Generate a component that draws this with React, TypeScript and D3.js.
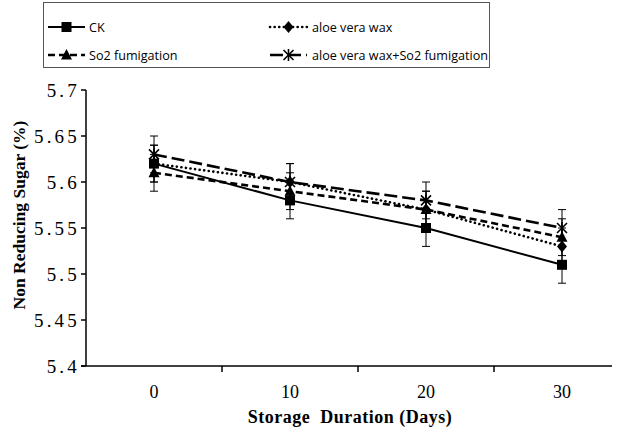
import React from "react";
import * as d3 from "d3";

const days = ["0", "10", "20", "30"];
const seriesNames = ["CK", "aloe vera wax", "So2 fumigation", "aloe vera wax+So2 fumigation"];
const ckValues = [5.62, 5.58, 5.55, 5.51];
const aloeValues = [5.62, 5.6, 5.57, 5.53];
const so2Values = [5.61, 5.59, 5.57, 5.54];
const bothValues = [5.63, 5.6, 5.58, 5.55];
const errValues = [0.02, 0.02, 0.02, 0.02];
const yTicks = [5.4, 5.45, 5.5, 5.55, 5.6, 5.65, 5.7];

const W = 618, H = 430;
const left = 86, right = 630, top = 90, bottom = 366;

const x = d3.scaleBand<string>().domain(days).range([left, right]).padding(0);
const y = d3.scaleLinear().domain([5.4, 5.7]).range([bottom, top]);

type Marker = "square" | "diamond" | "triangle" | "star";
const styles: { dash: string; marker: Marker; cap: any; width: number }[] = [
  { dash: "none", marker: "square", cap: "butt", width: 2 },
  { dash: "0.1 4.5", marker: "diamond", cap: "round", width: 2.6 },
  { dash: "7 4", marker: "triangle", cap: "butt", width: 2.6 },
  { dash: "13 5", marker: "star", cap: "butt", width: 2.6 },
];
const allValues = [ckValues, aloeValues, so2Values, bothValues];

function MarkerShape({ type, cx, cy }: { type: Marker; cx: number; cy: number }) {
  if (type === "square") return <rect x={cx - 5} y={cy - 5} width={10} height={10} fill="#000" />;
  if (type === "diamond") return <path d={`M${cx},${cy - 6}L${cx + 5},${cy}L${cx},${cy + 6}L${cx - 5},${cy}Z`} fill="#000" />;
  if (type === "triangle") return <path d={`M${cx},${cy - 6}L${cx + 5.5},${cy + 4.5}L${cx - 5.5},${cy + 4.5}Z`} fill="#000" />;
  return (
    <g stroke="#000" strokeWidth={1.6}>
      <line x1={cx - 5} y1={cy - 5} x2={cx + 5} y2={cy + 5} />
      <line x1={cx + 5} y1={cy - 5} x2={cx - 5} y2={cy + 5} />
      <line x1={cx} y1={cy - 6} x2={cx} y2={cy + 6} />
    </g>
  );
}

export default function App() {
  const line = d3
    .line<number>()
    .x((_, i) => (x(days[i]) as number) + x.bandwidth() / 2)
    .y((v) => y(v));
  const cx = (i: number) => (x(days[i]) as number) + x.bandwidth() / 2;

  const legendItems = [
    { lx: 48, ly: 27, tx: 89 },
    { lx: 270, ly: 27, tx: 312 },
    { lx: 48, ly: 55, tx: 89 },
    { lx: 270, ly: 55, tx: 312 },
  ];

  return (
    <svg width={W} height={H} style={{ position: "absolute", left: 0, top: 0, background: "#fff" }}>
      <rect x={0} y={0} width={W} height={H} fill="#fff" />
      {/* legend */}
      <rect x={43.5} y={2.5} width={446} height={65} fill="#fff" stroke="#555" strokeWidth={1} />
      {legendItems.map((it, k) => (
        <g key={k}>
          <line
            x1={it.lx}
            x2={it.lx + 37}
            y1={it.ly}
            y2={it.ly}
            stroke="#000"
            strokeWidth={styles[k].width}
            strokeDasharray={styles[k].dash}
            strokeLinecap={styles[k].cap}
          />
          <MarkerShape type={styles[k].marker} cx={it.lx + 18.5} cy={it.ly} />
          <text x={it.tx} y={it.ly + 4.5} fontFamily="Open Sans, sans-serif" fontSize={12.6} fill="#000">
            {seriesNames[k]}
          </text>
        </g>
      ))}

      {/* axes */}
      <line x1={left} x2={left} y1={top} y2={bottom} stroke="#000" strokeWidth={1.5} />
      <line x1={left - 5} x2={612} y1={bottom} y2={bottom} stroke="#000" strokeWidth={1.5} />
      {yTicks.map((t) => (
        <g key={t}>
          <line x1={left - 5} x2={left} y1={y(t)} y2={y(t)} stroke="#000" strokeWidth={1.5} />
          <text
            x={left - 6}
            y={y(t) + 6.5}
            textAnchor="end"
            fontFamily="Liberation Serif, serif"
            fontSize={19}
            letterSpacing={3.2}
          >
            {t}
          </text>
        </g>
      ))}
      {days.slice(1).map((d) => (
        <line key={d} x1={x(d) as number} x2={x(d) as number} y1={bottom} y2={bottom + 6} stroke="#000" strokeWidth={1.5} />
      ))}
      {days.map((d, i) => (
        <text key={d} x={cx(i)} y={398} textAnchor="middle" fontFamily="Liberation Serif, serif" fontSize={18}>
          {d}
        </text>
      ))}
      <text
        x={350}
        y={423}
        textAnchor="middle"
        fontFamily="Liberation Serif, serif"
        fontSize={18}
        fontWeight="bold"
        letterSpacing={0.5}
        style={{ whiteSpace: "pre" }}
      >
        {"Storage  Duration (Days)"}
      </text>
      <text
        transform={`translate(25,215) rotate(-90)`}
        textAnchor="middle"
        fontFamily="Liberation Serif, serif"
        fontSize={17.5}
        fontWeight="bold"
      >
        Non Reducing Sugar (%)
      </text>

      {/* error bars */}
      {allValues.map((vals, s) =>
        vals.map((v, i) => (
          <g key={`e${s}-${i}`} stroke="#000" strokeWidth={1}>
            <line x1={cx(i)} x2={cx(i)} y1={y(v + errValues[s])} y2={y(v - errValues[s])} />
            <line x1={cx(i) - 4} x2={cx(i) + 4} y1={y(v + errValues[s])} y2={y(v + errValues[s])} />
            <line x1={cx(i) - 4} x2={cx(i) + 4} y1={y(v - errValues[s])} y2={y(v - errValues[s])} />
          </g>
        ))
      )}

      {/* lines */}
      {allValues.map((vals, s) => (
        <path
          key={`l${s}`}
          d={line(vals) as string}
          fill="none"
          stroke="#000"
          strokeWidth={styles[s].width}
          strokeDasharray={styles[s].dash}
          strokeLinecap={styles[s].cap}
        />
      ))}
      {allValues.map((vals, s) =>
        vals.map((v, i) => <MarkerShape key={`m${s}-${i}`} type={styles[s].marker} cx={cx(i)} cy={y(v)} />)
      )}
    </svg>
  );
}
